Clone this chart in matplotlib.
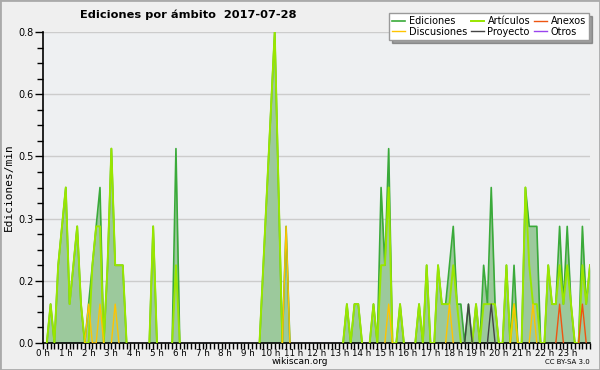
import numpy as np
import matplotlib.pyplot as plt
from matplotlib.patches import Rectangle

# edits per minute, 10-minute bins (0h00 .. 24h00)
ediciones = [
    0, 0, .1, 0, .2, .3, .4, .1, .2, .3, .1, 0,
    .1, .2, .3, .4, 0, .2, .5, .2, .2, .2, 0, 0,
    0, 0, 0, 0, 0, .3, 0, 0, 0, 0, 0, .5,
    0, 0, 0, 0, 0, 0, 0, 0, 0, 0, 0, 0,
    0, 0, 0, 0, 0, 0, 0, 0, 0, 0, .2, .4,
    .6, .8, .4, 0, .3, 0, 0, 0, 0, 0, 0, 0,
    0, 0, 0, 0, 0, 0, 0, 0, .1, 0, .1, .1,
    0, 0, 0, .1, 0, .4, .2, .5, 0, 0, .1, 0,
    0, 0, 0, .1, 0, .2, 0, 0, .2, .1, .1, .2,
    .3, .1, .1, 0, .1, 0, .1, 0, .2, .1, .4, .1,
    0, 0, .2, 0, .2, 0, 0, .4, .3, .3, .3, 0,
    0, .2, .1, .1, .3, .1, .3, .1, 0, 0, .3, .1,
    .2]
articulos = [
    0, 0, .1, 0, .2, .3, .4, .1, .2, .3, .1, 0,
    0, .2, .3, .3, 0, .2, .5, .2, .2, .2, 0, 0,
    0, 0, 0, 0, 0, .3, 0, 0, 0, 0, 0, .2,
    0, 0, 0, 0, 0, 0, 0, 0, 0, 0, 0, 0,
    0, 0, 0, 0, 0, 0, 0, 0, 0, 0, .2, .4,
    .6, .8, .4, 0, 0, 0, 0, 0, 0, 0, 0, 0,
    0, 0, 0, 0, 0, 0, 0, 0, .1, 0, .1, .1,
    0, 0, 0, .1, 0, .2, .2, .4, 0, 0, .1, 0,
    0, 0, 0, .1, 0, .2, 0, 0, .2, .1, .1, .1,
    .2, .1, 0, 0, 0, 0, .1, 0, .1, .1, .1, .1,
    0, 0, .2, 0, .1, 0, 0, .4, .2, .1, .1, 0,
    0, .2, .1, .1, .2, .1, .2, .1, 0, 0, .2, .1,
    .2]
discusiones = [
    0, 0, 0, 0, 0, 0, 0, 0, 0, 0, 0, 0,
    .1, 0, 0, .1, 0, 0, 0, .1, 0, 0, 0, 0,
    0, 0, 0, 0, 0, 0, 0, 0, 0, 0, 0, 0,
    0, 0, 0, 0, 0, 0, 0, 0, 0, 0, 0, 0,
    0, 0, 0, 0, 0, 0, 0, 0, 0, 0, 0, 0,
    0, 0, 0, 0, .3, 0, 0, 0, 0, 0, 0, 0,
    0, 0, 0, 0, 0, 0, 0, 0, 0, 0, 0, 0,
    0, 0, 0, 0, 0, 0, 0, .1, 0, 0, 0, 0,
    0, 0, 0, 0, 0, 0, 0, 0, 0, 0, 0, .1,
    0, 0, 0, 0, 0, 0, 0, 0, 0, 0, 0, 0,
    0, 0, 0, 0, .1, 0, 0, 0, 0, .1, 0, 0,
    0, 0, 0, 0, 0, 0, 0, 0, 0, 0, 0, 0,
    0]
proyecto = [0] * 112 + [.1] + [0] * 5 + [.1] + [0] * 26
anexos = [0] * 136 + [.1] + [0] * 5 + [.1] + [0] * 2

hours = [f'{h} h' for h in range(24)]
yticks = [0, .16, .32, .48, .64, .8]

x = np.arange(len(ediciones)) / 6.0


def hide_zero_runs(vals):
    # blank out points that sit on zero with zero neighbours (they'd only trace the axis)
    v = np.array(vals, dtype=float)
    pad = np.concatenate([[0], v, [0]])
    flat = (v == 0) & (pad[:-2] == 0) & (pad[2:] == 0)
    v[flat] = np.nan
    return v


fig = plt.figure(figsize=(6, 3.7), dpi=100, facecolor='#efefef')
ax = fig.add_axes([43/600, 27/370, 547/600, 311/370])
ax.set_facecolor('#eef0f2')

ax.fill_between(x, ediciones, 0, color='#9cc99c', lw=0, zorder=1)
l_ed, = ax.plot(x, hide_zero_runs(ediciones), color='#3aaa3a', lw=1.2, zorder=2)
l_art, = ax.plot(x, hide_zero_runs(articulos), color='#99e600', lw=1.4, zorder=3)
l_dis, = ax.plot(x, hide_zero_runs(discusiones), color='#ffc400', lw=1.0, zorder=4)
l_pro, = ax.plot(x, hide_zero_runs(proyecto), color='#444444', lw=1.0, zorder=4)
l_anx, = ax.plot(x, hide_zero_runs(anexos), color='#ee5511', lw=1.0, zorder=4)
l_otr, = ax.plot([], [], color='#9944ee', lw=1.0)

ax.set_xlim(0, 24)
ax.set_ylim(0, 0.8)
ax.set_yticks(yticks)
ax.set_yticklabels([f'{v:.1f}' for v in yticks])
ax.set_yticks(np.arange(0, 0.81, 0.04), minor=True)
ax.set_xticks(range(24))
ax.set_xticklabels(hours)
ax.set_xticks(np.arange(0, 24.01, 1/6), minor=True)
ax.tick_params(axis='both', which='both', labelsize=7, colors='black', width=1)
ax.tick_params(axis='x', labelsize=6.3)
ax.tick_params(axis='y', which='major', length=6, pad=1)
ax.tick_params(axis='y', which='minor', length=4)
ax.tick_params(axis='x', which='both', length=4, pad=0)
ax.grid(axis='y', color='#cccccc', lw=1)
ax.set_axisbelow(True)
for s in ['top', 'right']:
    ax.spines[s].set_visible(False)
ax.spines['left'].set_linewidth(1.2)
ax.spines['bottom'].set_linewidth(1.2)

ax.set_ylabel('Ediciones/min', fontsize=8, family='DejaVu Sans Mono', labelpad=3)

fig.text(188/600, 1 - 15/370, 'Ediciones por ámbito  2017-07-28', fontsize=8.2,
         fontweight='bold', ha='center', va='center')
fig.text(300/600, 1 - 362/370, 'wikiscan.org', fontsize=6.5, ha='center', va='center')
fig.text(590/600, 1 - 362/370, 'CC BY-SA 3.0', fontsize=5, ha='right', va='center')

fig.legend([l_ed, l_dis, l_art, l_pro, l_anx, l_otr],
           ['Ediciones', 'Discusiones', 'Artículos', 'Proyecto', 'Anexos', 'Otros'],
           ncol=3, loc='upper right', bbox_to_anchor=(594/600, 1 - 8/370),
           fontsize=7, handlelength=1.3, handletextpad=0.4, columnspacing=0.4,
           labelspacing=0.05, borderpad=0.35, fancybox=False, shadow=True,
           framealpha=1, edgecolor='#999999')

fig.patches.append(Rectangle((0, 0), 1, 1, transform=fig.transFigure, fill=False,
                             edgecolor='#aaaaaa', lw=2))

fig.savefig('out.png', dpi=100, facecolor=fig.get_facecolor())
